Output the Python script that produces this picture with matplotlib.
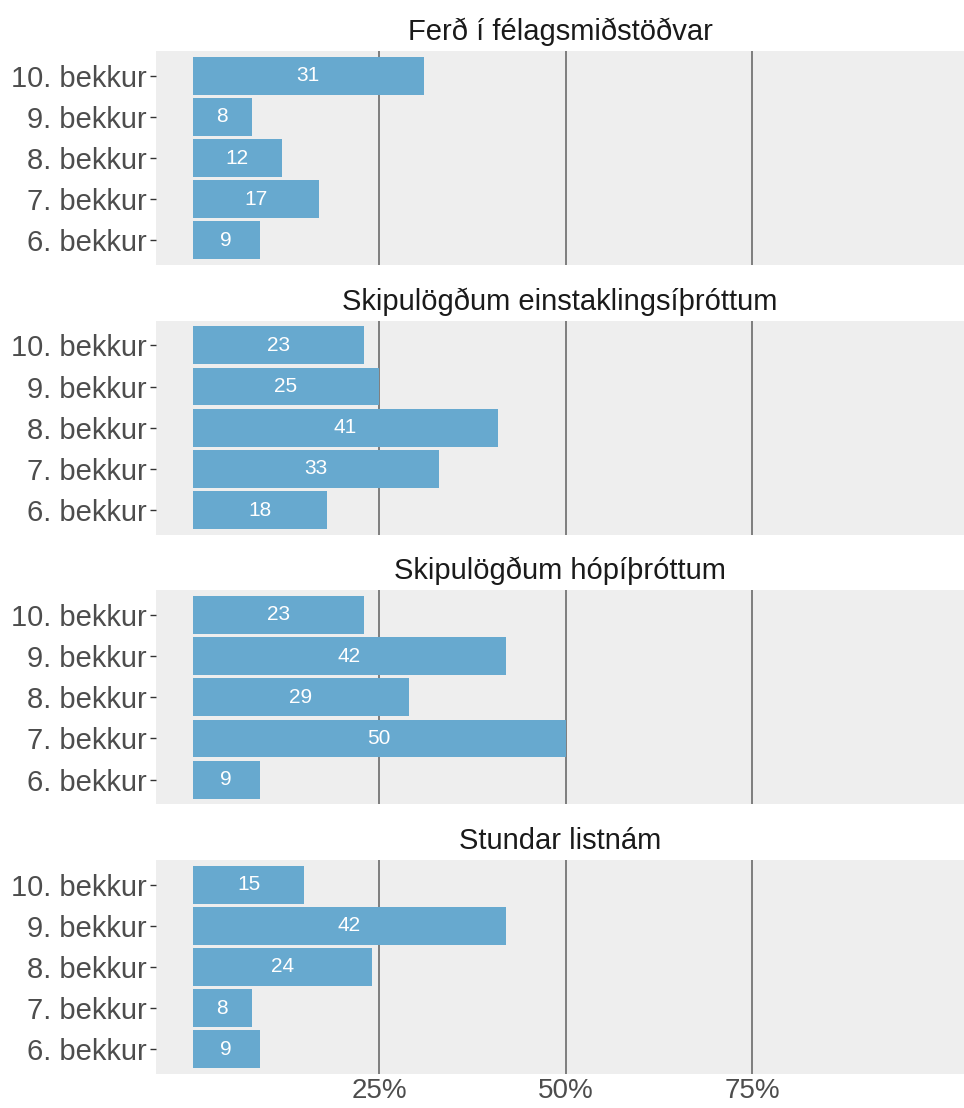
"""
Þátttaka í frístundastarfi eftir bekk - láréttar súlur í fjórum reitum
"""
import matplotlib
matplotlib.use('Agg')
import matplotlib.pyplot as plt
import numpy as np

grades = ['6. bekkur', '7. bekkur', '8. bekkur', '9. bekkur', '10. bekkur']

titles = ['Ferð í félagsmiðstöðvar',
          'Skipulögðum einstaklingsíþróttum',
          'Skipulögðum hópíþróttum',
          'Stundar listnám']

# percent per grade, ordered 6. -> 10. bekkur
ferd      = [9, 17, 12, 8, 31]
einstakl  = [18, 33, 41, 25, 23]
hopithr   = [9, 50, 29, 42, 23]
listnam   = [9, 8, 24, 42, 15]
values = [ferd, einstakl, hopithr, listnam]

xticks = [25, 50, 75]
xticklabels = ['25%', '50%', '75%']

bar_color = '#67A9CF'
panel_bg  = '#EEEEEE'
grid_col  = '#6A6A6A'
text_col  = '#4D4D4D'

plt.rcParams['font.family'] = ['Liberation Sans', 'DejaVu Sans']

W, H = 964, 1108
fig = plt.figure(figsize=(W / 100, H / 100), dpi=100)

left_px = 156
panel_h = 214
tops = [51, 320.7, 590.3, 860]

y = np.arange(len(grades))
for i, (title, vals) in enumerate(zip(titles, values)):
    top = tops[i]
    ax = fig.add_axes([left_px / W, 1 - (top + panel_h) / H,
                       1 - left_px / W, panel_h / H])
    ax.set_facecolor(panel_bg)
    for s in ax.spines.values():
        s.set_visible(False)
    for xt in xticks:
        ax.axvline(xt, color=grid_col, linewidth=1.2, zorder=1)
    ax.barh(y, vals, height=0.92, color=bar_color, zorder=2)
    for yy, v in zip(y, vals):
        ax.text(v / 2, yy, str(v), ha='center', va='center',
                color='white', fontsize=15, zorder=3)
    ax.set_xlim(-4.9, 103.4)
    ax.set_ylim(-0.6, len(grades) - 0.4)
    ax.set_yticks(y)
    ax.set_yticklabels(grades, fontsize=21, color=text_col)
    ax.tick_params(axis='y', length=4, width=1, color='#333333', pad=3)
    ax.set_xticks(xticks)
    if i == len(titles) - 1:
        ax.set_xticklabels(xticklabels, fontsize=20, color=text_col)
        ax.tick_params(axis='x', length=0, pad=3)
    else:
        ax.set_xticklabels([])
        ax.tick_params(axis='x', length=0)
    ax.text(0.5, 1 + 11 / panel_h, title, transform=ax.transAxes,
            ha='center', va='baseline', fontsize=21, color='#1A1A1A')

fig.savefig('out.png', dpi=100)
